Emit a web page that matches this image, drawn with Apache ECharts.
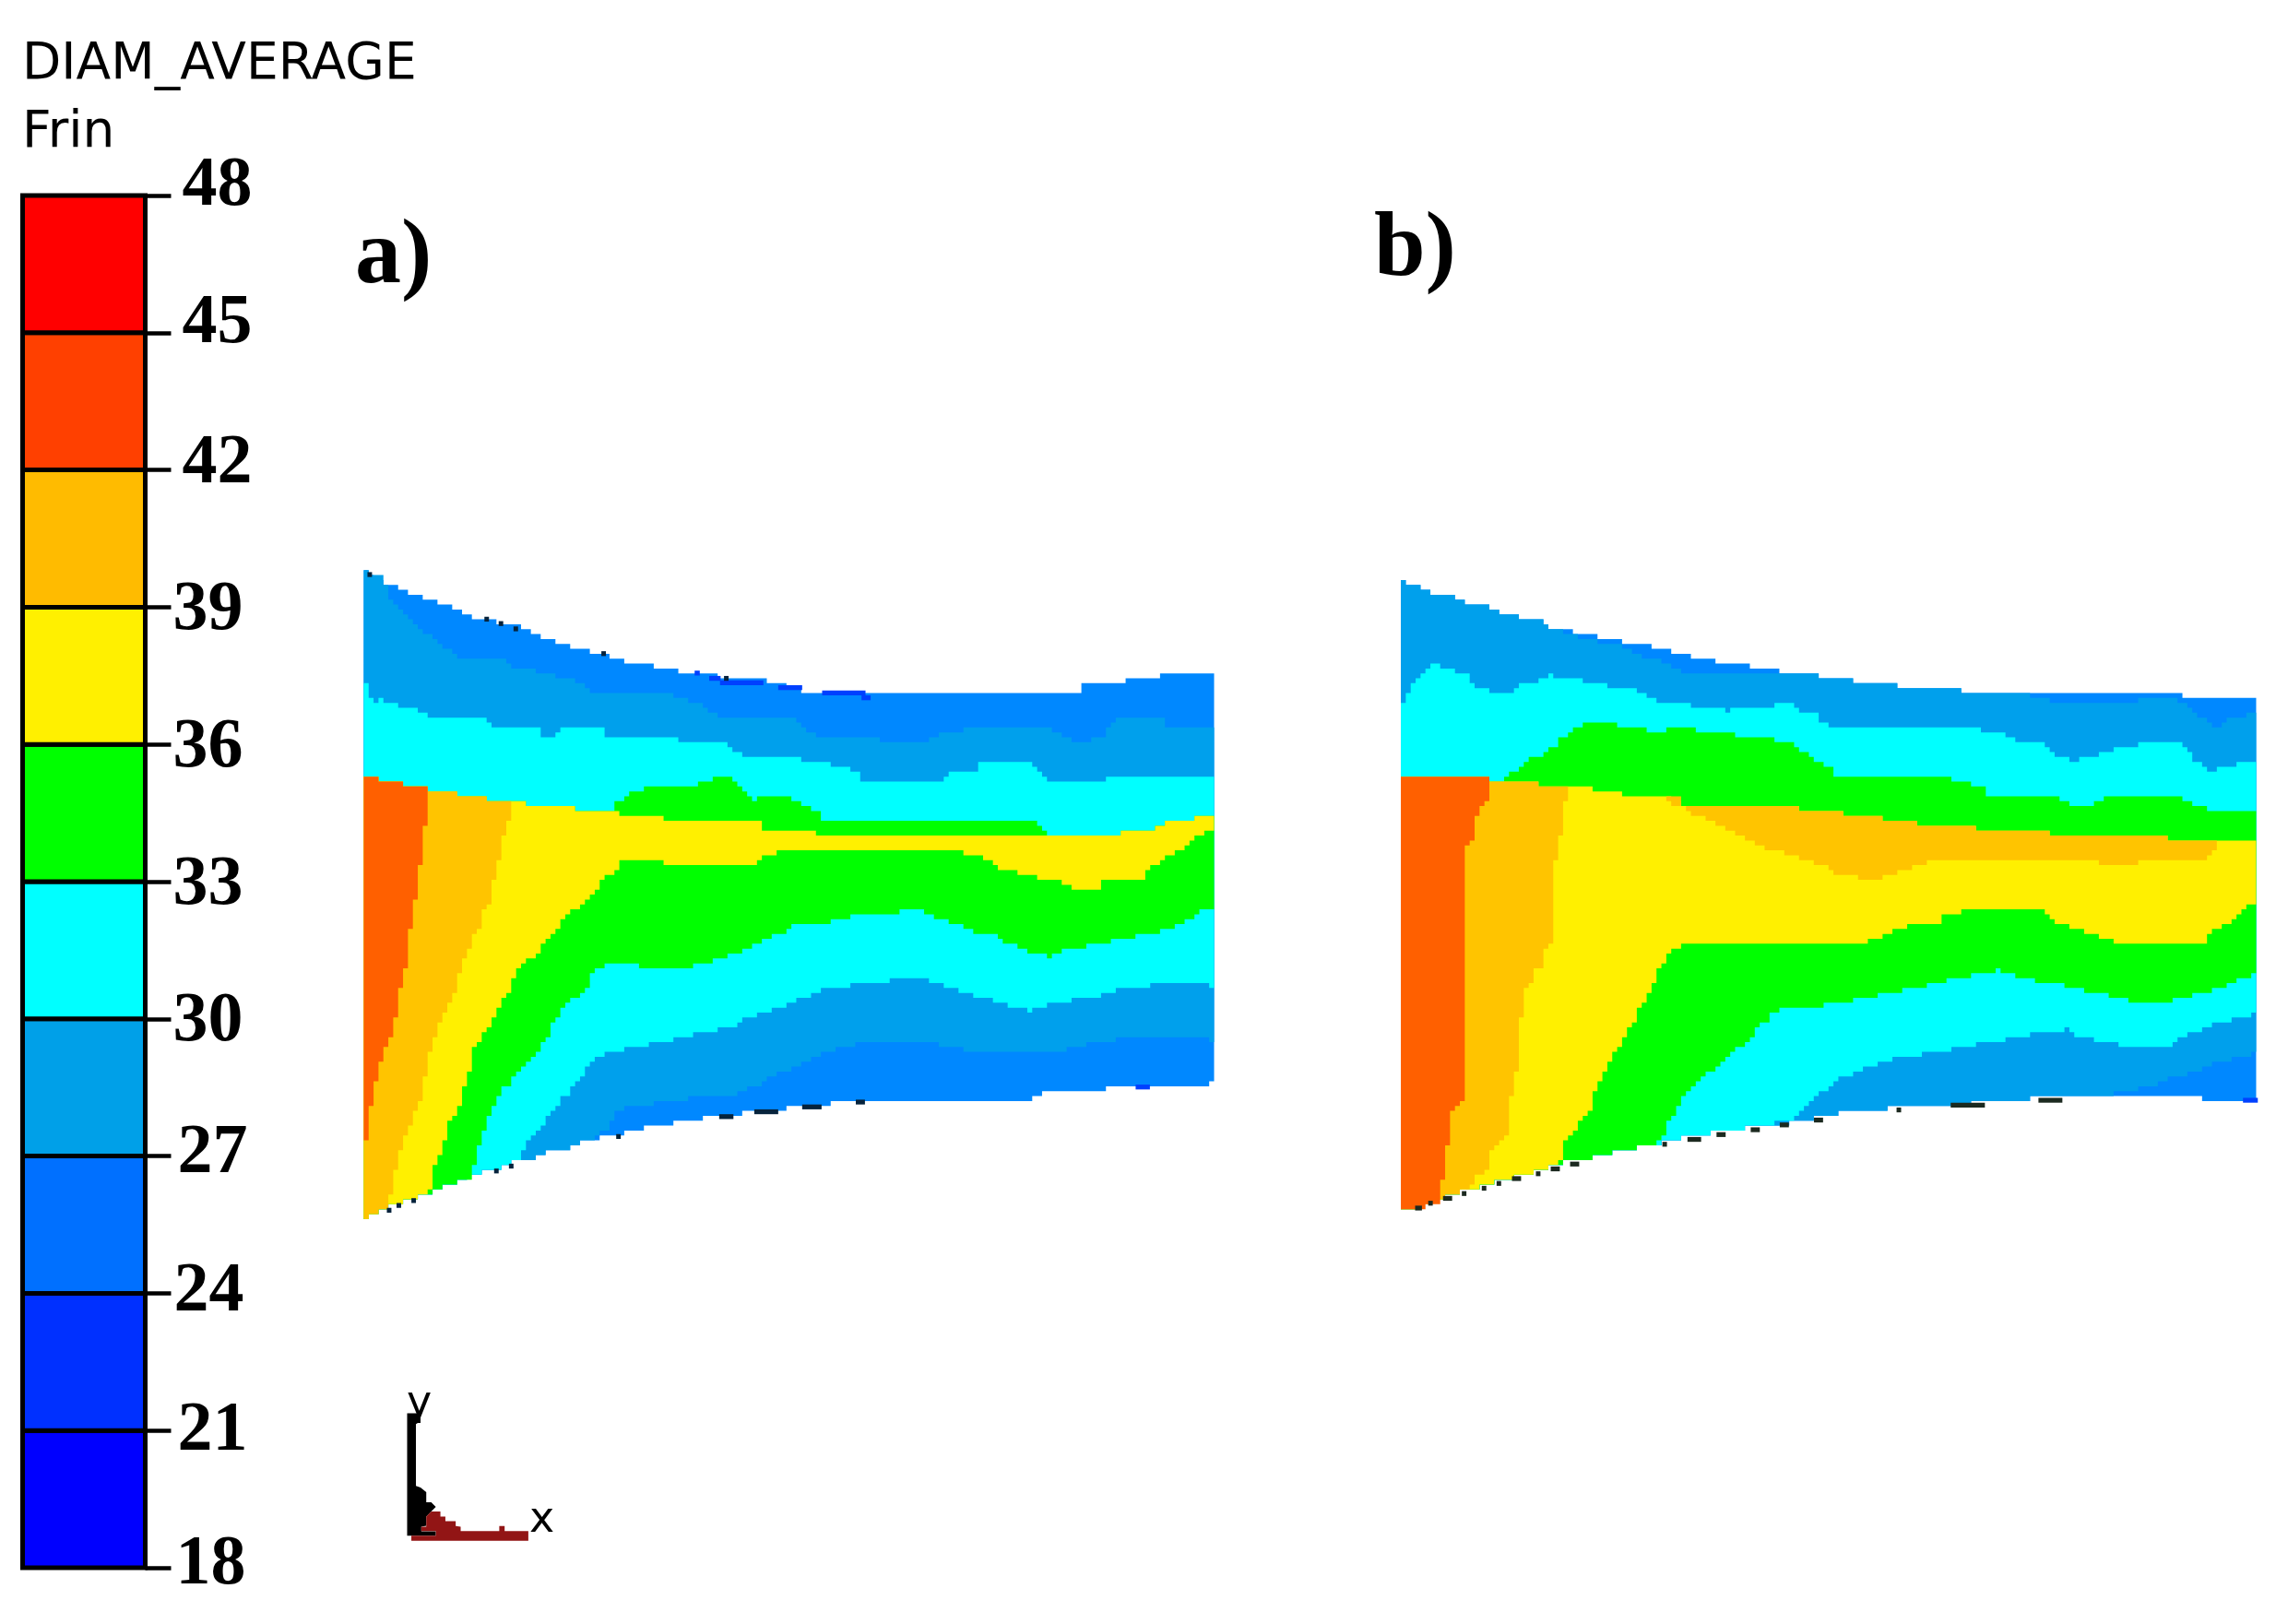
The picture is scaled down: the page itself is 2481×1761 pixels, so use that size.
<!DOCTYPE html>
<html><head><meta charset="utf-8">
<style>html,body{margin:0;padding:0;background:#fff}#c{width:2481px;height:1761px}</style>
<script src="https://cdn.jsdelivr.net/npm/echarts@6/dist/echarts.min.js"></script></head>
<body><div id="c"></div>
<script>
const legendLevels=[18,21,24,27,30,33,36,39,42,45,48];
const legendColors=['#0000ff','#0030ff','#0070ff','#00a0e8','#00ffff','#00ff00','#fff000','#ffbb00','#ff4000','#ff0000'];
const labelShift={48:10,45:9,42:6,39:-4,36:-4,33:-4,30:-4,27:2,24:1,21:-1,18:3};
const labelIndent={48:10,45:10,42:10,39:0,36:0,33:0,30:0,27:5,24:1,21:5,18:3};
const bandColors={l24:'#0088ff',l27:'#00a0ec',l30:'#00ffff',l33:'#00ff00',l36:'#fff000',l39:'#ffc400',l42:'#ff6000'};

/* Panel a: boundaries of the contour levels */
const aOutlineTop=[[37,42],[90,75],[135,97],[185,120],[225,142],[305,165],[365,198],[430,220],[500,243],[585,265],[640,275],[740,287],[810,310],[920,320],[1185,320],[1190,310],[1295,310],[1297,298],[1375,298],[1375,287],[1435,287],[1435,276],[1528,276]];
const aOutlineBottom=[[1528,1190],[1520,1200],[1420,1202],[1322,1213],[1212,1224],[1210,1235],[920,1235],[840,1247],[765,1258],[690,1270],[620,1280],[570,1292],[525,1303],[490,1315],[445,1325],[420,1337],[390,1347],[360,1358],[330,1370],[300,1380],[270,1392],[240,1403],[200,1425],[150,1450],[100,1472],[65,1492],[45,1505],[37,1515]];
const aTop27=[[37,42],[70,55],[80,75],[82,95],[90,120],[115,150],[150,185],[175,210],[200,232],[265,232],[295,252],[330,265],[372,275],[400,287],[415,298],[440,310],[535,310],[578,320],[605,332],[630,343],[650,365],[680,376],[790,376],[810,398],[835,410],[920,410],[925,420],[1015,430],[1040,410],[1085,400],[1135,388],[1235,388],[1255,405],[1290,430],[1330,410],[1358,376],[1440,376],[1445,388],[1528,388]];
const aLow27=[[1528,1100],[1495,1090],[1400,1090],[1358,1100],[1270,1122],[1135,1133],[1050,1110],[1020,1100],[930,1100],[860,1125],[810,1155],[765,1180],[735,1200],[690,1225],[595,1235],[535,1247],[485,1258],[470,1300],[445,1325]];
const aTop30=[[37,276],[45,300],[55,343],[65,320],[72,332],[97,343],[125,352],[140,365],[165,376],[243,376],[260,398],[345,398],[348,410],[372,410],[380,388],[398,388],[400,398],[458,398],[458,410],[545,410],[595,420],[595,432],[672,432],[705,455],[790,455],[795,465],[852,476],[893,488],[912,510],[1048,510],[1075,488],[1115,488],[1118,476],[1195,476],[1200,465],[1220,488],[1238,510],[1296,510],[1305,520],[1320,520],[1348,500],[1435,500],[1440,510],[1445,500],[1528,500]];
const aLow30=[[1528,978],[1445,968],[1408,980],[1358,990],[1322,1002],[1280,1012],[1238,1023],[1212,1035],[1178,1023],[1150,1012],[1118,1000],[1090,990],[1065,978],[1040,968],[1005,957],[963,968],[895,978],[843,990],[825,1002],[800,1012],[782,1023],[758,1035],[732,1045],[705,1057],[690,1068],[655,1080],[620,1090],[578,1102],[535,1112],[490,1125],[458,1135],[445,1147],[430,1170],[420,1190],[400,1225],[380,1247],[355,1290],[335,1330],[312,1358],[312,1375]];
const aTop33=[[37,500],[65,500],[65,510],[107,510],[107,522],[150,522],[150,533],[200,533],[200,545],[252,545],[252,555],[328,555],[328,567],[405,567],[408,577],[472,577],[480,565],[500,545],[525,533],[552,522],[620,522],[648,510],[655,500],[680,500],[690,520],[710,545],[722,555],[765,545],[790,555],[810,575],[835,580],[843,600],[1210,600],[1220,620],[1235,640],[1245,633],[1365,633],[1365,622],[1418,622],[1452,600],[1495,600],[1495,588],[1528,588]];
const aLow33=[[1528,800],[1500,820],[1480,835],[1460,848],[1418,860],[1382,868],[1340,880],[1305,890],[1262,900],[1248,912],[1212,900],[1185,888],[1160,877],[1142,855],[1117,855],[1090,843],[1065,832],[1048,822],[1022,810],[990,800],[980,812],[938,812],[893,823],[860,833],[825,835],[790,845],[770,860],[740,880],[705,900],[680,912],[655,923],[620,935],[595,945],[595,935],[525,935],[525,923],[475,923],[458,935],[440,955],[435,980],[410,1010],[380,1045],[370,1070],[360,1110],[335,1150],[300,1190],[275,1240],[260,1270],[250,1310],[240,1345],[232,1390],[225,1412]];
const aTop36=[[37,500],[65,500],[65,510],[107,510],[107,522],[150,522],[150,533],[200,533],[200,545],[252,545],[252,555],[328,555],[328,567],[405,567],[408,577],[470,577],[490,588],[568,590],[568,600],[655,600],[655,610],[740,610],[740,622],[835,622],[835,633],[903,633],[903,643],[1235,643],[1245,633],[1365,633],[1365,622],[1418,622],[1452,600],[1495,600],[1495,588],[1528,588]];
const aLow36=[[1528,622],[1505,640],[1490,655],[1475,668],[1460,678],[1445,690],[1418,712],[1408,733],[1375,735],[1332,745],[1330,755],[1288,755],[1262,743],[1230,733],[1195,722],[1160,712],[1132,690],[1100,678],[1065,668],[808,668],[765,678],[740,690],[722,710],[714,700],[570,700],[568,688],[492,688],[483,722],[458,735],[448,770],[425,790],[400,820],[380,850],[360,885],[325,930],[303,960],[285,1020],[270,1050],[243,1100],[232,1130],[225,1170],[215,1220],[205,1260],[190,1295],[180,1340],[165,1385],[155,1450]];
const aTop39=[[37,500],[65,500],[65,510],[107,510],[107,522],[150,522],[150,533],[200,533],[200,545],[252,545],[252,555],[300,555]];
const aLow39=[[300,565],[295,610],[285,650],[278,690],[268,740],[260,790],[250,820],[240,855],[225,890],[215,930],[207,960],[198,1000],[183,1040],[165,1090],[155,1135],[148,1180],[140,1235],[122,1290],[105,1345],[97,1380],[88,1450],[80,1478]];
const aLevel42=[[37,500],[65,500],[65,510],[107,510],[107,522],[150,522],[150,620],[142,625],[140,700],[132,770],[122,845],[115,925],[107,965],[98,1045],[90,1080],[80,1115],[72,1145],[63,1180],[55,1235],[47,1325],[37,1325]];
const aDarkSpecks=[[50,47,8],[255,148,8],[280,158,8],[306,170,8],[460,226,8],[675,282,8],[910,1241,16],[825,1252,34],[745,1263,42],[675,1274,25],[486,1319,8],[298,1386,8],[272,1397,8],[127,1464,8],[101,1475,8],[84,1486,8]];
const aBlueSpecks=[[624,270,9],[655,282,20],[702,292,76],[787,303,42],[881,315,76],[920,326,16],[1405,1207,25]];

/* Panel b: boundaries of the contour levels */
const bOutlineTop=[[44,60],[70,75],[95,86],[130,97],[163,109],[190,120],[215,131],[250,142],[285,153],[310,165],[345,176],[387,187],[430,198],[480,209],[515,220],[558,232],[600,243],[652,254],[703,265],[772,276],[832,287],[908,298],[1012,309],[1148,320],[1414,320],[1415,332],[1552,332]];
const bOutlineBottom=[[1552,1247],[1450,1247],[1450,1236],[1165,1236],[1072,1247],[920,1258],[825,1270],[740,1292],[660,1303],[600,1315],[550,1325],[510,1337],[472,1347],[430,1358],[387,1370],[340,1380],[310,1392],[285,1403],[250,1415],[220,1425],[190,1437],[160,1448],[130,1460],[100,1475],[70,1492],[44,1492]];
const bTop27=[[44,60],[70,75],[95,86],[130,97],[163,109],[190,120],[215,131],[250,142],[285,153],[310,165],[345,187],[387,198],[430,209],[472,232],[500,243],[530,265],[558,276],[772,276],[790,287],[832,287],[865,298],[908,298],[1012,309],[1148,320],[1183,332],[1210,343],[1320,343],[1355,322],[1385,322],[1414,335],[1440,365],[1455,376],[1470,398],[1500,376],[1528,365],[1552,365]];
const bLow27=[[1552,1135],[1518,1145],[1483,1158],[1432,1180],[1405,1192],[1355,1213],[1295,1225],[1295,1236]];
const bTop30=[[44,353],[52,322],[62,310],[70,287],[78,276],[88,265],[97,254],[112,254],[137,265],[155,276],[172,298],[198,310],[207,320],[232,320],[233,310],[258,298],[285,287],[310,276],[327,287],[370,287],[370,298],[412,298],[412,309],[463,309],[465,320],[490,322],[507,343],[558,343],[558,353],[618,353],[622,365],[628,353],[703,353],[705,343],[730,343],[748,365],[772,365],[790,387],[832,398],[1063,398],[1065,410],[1098,410],[1140,432],[1175,432],[1190,455],[1210,465],[1228,476],[1238,465],[1270,455],[1295,443],[1338,432],[1414,432],[1432,465],[1458,488],[1470,498],[1483,488],[1510,476],[1552,476]];
const bLow30=[[1552,1045],[1510,1057],[1483,1068],[1458,1080],[1432,1090],[1415,1102],[1390,1124],[1338,1124],[1305,1112],[1262,1102],[1225,1090],[1220,1080],[1215,1090],[1158,1090],[1115,1102],[1072,1112],[1020,1124],[970,1135],[918,1147],[892,1158],[865,1170],[850,1180],[823,1192],[805,1205],[782,1236],[765,1258],[740,1285]];
const bTop33=[[44,500],[112,500],[112,510],[198,510],[198,522],[232,522],[232,500],[258,478],[268,465],[293,455],[310,443],[327,420],[345,398],[370,388],[428,388],[430,398],[480,398],[480,410],[515,398],[566,398],[566,410],[635,410],[635,420],[703,420],[705,432],[730,432],[748,445],[765,465],[782,476],[800,488],[808,500],[960,500],[960,510],[1005,510],[1038,522],[1072,533],[1072,545],[1165,545],[1200,555],[1218,568],[1220,578],[1252,578],[1280,555],[1295,545],[1405,545],[1432,568],[1458,568],[1466,588],[1552,588]];
const bLow33=[[1552,957],[1518,968],[1475,990],[1440,1000],[1415,1012],[1362,1023],[1322,1012],[1288,1000],[1245,990],[1210,978],[1158,968],[1125,957],[1100,946],[1055,957],[1012,968],[977,978],[935,990],[892,1002],[850,1012],[808,1023],[720,1035],[703,1045],[685,1068],[665,1100],[640,1125],[618,1150],[590,1180],[565,1205],[540,1240],[530,1275],[515,1295],[515,1325],[498,1340]];
const bTop36=[[44,500],[112,500],[112,510],[198,510],[198,522],[292,522],[292,533],[386,533],[386,544],[438,544],[438,555],[515,555],[541,567],[642,567],[642,578],[746,578],[746,588],[823,588],[823,600],[892,600],[892,610],[952,610],[952,622],[1055,622],[1055,633],[1183,633],[1183,644],[1397,644],[1397,655],[1552,655]];
const bLow36=[[1552,788],[1543,800],[1518,822],[1500,845],[1483,857],[1466,870],[1458,890],[1330,890],[1295,878],[1270,868],[1245,857],[1218,845],[1190,825],[1175,812],[1038,812],[1005,823],[985,845],[945,846],[918,857],[900,868],[865,880],[865,890],[550,890],[525,900],[515,915],[498,957],[489,990],[480,1012],[465,1045],[455,1068],[445,1090],[430,1125],[420,1147],[405,1190],[390,1220],[378,1270],[360,1300],[345,1325],[335,1347],[330,1382]];
const bTop39=[[44,500],[112,500],[112,510],[198,510],[198,522],[292,522],[292,533],[344,533]];
const bLow39=[[344,555],[335,560],[335,600],[327,650],[318,710],[318,810],[310,900],[301,900],[293,940],[284,950],[275,980],[260,1000],[258,1068],[250,1180],[241,1240],[241,1315],[224,1330],[207,1360],[198,1400],[183,1415],[172,1442]];
const bIsland39=[[515,555],[541,555],[541,567],[642,567],[642,578],[746,578],[746,588],[823,588],[823,600],[892,600],[892,610],[952,610],[952,622],[1055,622],[1055,633],[1183,633],[1183,644],[1397,644],[1397,655],[1475,655],[1475,678],[1458,690],[1397,690],[1397,700],[1338,700],[1338,710],[1270,710],[1270,700],[1245,700],[1245,690],[1012,690],[1012,700],[978,700],[952,710],[925,722],[892,733],[892,744],[850,744],[850,733],[815,733],[800,712],[772,700],[746,688],[720,678],[695,668],[668,655],[652,645],[635,633],[618,622],[600,610],[583,600],[566,590],[550,578],[532,568],[515,560]];
const bLevel42=[[44,500],[112,500],[112,510],[198,510],[198,565],[190,570],[180,610],[172,655],[163,660],[163,1200],[155,1245],[138,1270],[130,1335],[121,1425],[112,1475],[100,1480],[70,1492],[44,1492]];
const bDarkSpecks=[[78,1486,12],[99,1475,8],[129,1464,16],[158,1453,8],[193,1441,8],[219,1430,8],[250,1419,16],[288,1408,8],[318,1397,16],[352,1386,16],[510,1341,8],[562,1330,24],[609,1319,16],[669,1308,16],[720,1297,16],[780,1286,16],[921,1263,8],[1042,1252,60],[1187,1241,42]];
const bBlueSpecks=[[1538,1241,26]];

/* Orientation triad */
const triadBlack=[[1065,398],[1100,398],[1100,430],[1088,430],[1088,635],[1100,640],[1115,655],[1115,688],[1128,688],[1140,703],[1128,718],[1115,735],[1115,765],[1102,768],[1102,783],[1140,783],[1140,797],[1065,797]];
const triadRed=[[1076,797],[1140,797],[1140,782],[1102,782],[1102,768],[1115,768],[1115,735],[1128,718],[1152,718],[1152,735],[1165,735],[1165,750],[1192,750],[1192,766],[1205,768],[1205,782],[1306,782],[1306,766],[1320,766],[1320,782],[1382,782],[1382,814],[1076,814]];

function below(outline,x){return outline.filter(p=>p[0]<x);}
function band(top,low,outline){return top.concat(low,below(outline,low[low.length-1][0]));}

const CELL=5.33;
function stair(pts){
  const s=v=>Math.round(v/CELL)*CELL, out=[];
  const n=pts.length;
  for(let i=0;i<n;i++){
    const p=pts[i],q=pts[(i+1)%n];
    const steps=Math.max(1,Math.ceil(Math.max(Math.abs(q[0]-p[0]),Math.abs(q[1]-p[1]))/CELL));
    for(let k=0;k<steps;k++){
      const x=s(p[0]+(q[0]-p[0])*k/steps),y=s(p[1]+(q[1]-p[1])*k/steps);
      if(out.length){const l=out[out.length-1];out.push([x,l[1]]);}
      out.push([x,y]);
    }
  }
  return out;
}
function poly(gridIdx,pts,color,pixelated){
  return {type:'custom',xAxisIndex:gridIdx,yAxisIndex:gridIdx,coordinateSystem:'cartesian2d',silent:true,clip:false,
    encode:{x:0,y:1},data:pts,
    renderItem:(params,api)=>{
      if(params.dataIndex!==0) return null;
      let p=pts.map(d=>api.coord(d));
      if(pixelated) p=stair(p);
      return {type:'polygon',shape:{points:p},style:{fill:color}};
    }};
}
function specks(gridIdx,list,color){
  return {type:'custom',xAxisIndex:gridIdx,yAxisIndex:gridIdx,coordinateSystem:'cartesian2d',silent:true,clip:false,
    encode:{x:0,y:1},data:list,
    renderItem:(params,api)=>{
      const a=api.coord([api.value(0)-api.value(2)/2,api.value(1)-5.5]);
      const b=api.coord([api.value(0)+api.value(2)/2,api.value(1)+5.5]);
      return {type:'rect',shape:{x:a[0],y:a[1],width:b[0]-a[0],height:b[1]-a[1]},style:{fill:color}};
    }};
}
const hiddenX=(g,max)=>({type:'value',gridIndex:g,min:0,max:max,show:false});
const hiddenY=(g,max)=>({type:'value',gridIndex:g,min:0,max:max,inverse:true,show:false});

const series=[
  poly(0,aOutlineTop.concat(aOutlineBottom),bandColors.l24,true),
  poly(0,band(aTop27,aLow27,aOutlineBottom),bandColors.l27,true),
  poly(0,band(aTop30,aLow30,aOutlineBottom),bandColors.l30,true),
  poly(0,band(aTop33,aLow33,aOutlineBottom),bandColors.l33,true),
  poly(0,band(aTop36,aLow36,aOutlineBottom),bandColors.l36,true),
  poly(0,band(aTop39,aLow39,aOutlineBottom),bandColors.l39,true),
  poly(0,aLevel42,bandColors.l42,true),
  specks(0,aBlueSpecks,'#0040ff'),
  specks(0,aDarkSpecks,'#06233c'),
  poly(1,bOutlineTop.concat(bOutlineBottom),bandColors.l24,true),
  poly(1,band(bTop27,bLow27,bOutlineBottom),bandColors.l27,true),
  poly(1,band(bTop30,bLow30,bOutlineBottom),bandColors.l30,true),
  poly(1,band(bTop33,bLow33,bOutlineBottom),bandColors.l33,true),
  poly(1,band(bTop36,bLow36,bOutlineBottom),bandColors.l36,true),
  poly(1,band(bTop39,bLow39,bOutlineBottom),bandColors.l39,true),
  poly(1,bIsland39,bandColors.l39,true),
  poly(1,bLevel42,bandColors.l42,true),
  specks(1,bBlueSpecks,'#0040ff'),
  specks(1,bDarkSpecks,'#1c2a20'),
  poly(2,triadBlack,'#000',false),
  poly(2,triadRed,'#921515',false),
  {type:'custom',xAxisIndex:3,yAxisIndex:3,coordinateSystem:'cartesian2d',silent:true,clip:false,z:5,
   encode:{y:[1,2]},
   data:legendColors.map((c,i)=>[0,legendLevels[i],legendLevels[i+1]]),
   renderItem:(params,api)=>{
     const a=api.coord([0,api.value(2)]),b=api.coord([0,api.value(1)]);
     const size=api.size([1,0]);
     return {type:'rect',shape:{x:a[0]-size[0]/2,y:a[1],width:size[0],height:b[1]-a[1]},
       style:{fill:legendColors[params.dataIndex],stroke:'#000',lineWidth:5}};
   }}
];
const rich={};
Object.keys(labelShift).forEach(k=>{
  const s=labelShift[k];
  rich['v'+k]={fontFamily:'Liberation Serif',fontWeight:'bold',fontSize:76,color:'#000',lineHeight:70,
    padding:[Math.max(0,-2*s),0,Math.max(0,2*s),labelIndent[k]]};
});
const option={
  backgroundColor:'#fff',animation:false,
  title:[
    {text:'DIAM_AVERAGE',left:24,top:43,padding:0,textStyle:{fontFamily:'DejaVu Sans',fontWeight:'normal',fontSize:55,color:'#000'}},
    {text:'Frin',left:24,top:117,padding:0,textStyle:{fontFamily:'DejaVu Sans',fontWeight:'normal',fontSize:55,color:'#000'}},
    {text:'a)',left:385,top:230,padding:0,textStyle:{fontFamily:'Liberation Serif',fontWeight:'bold',fontSize:100,color:'#000'}},
    {text:'b)',left:1490,top:222,padding:0,textStyle:{fontFamily:'Liberation Serif',fontWeight:'bold',fontSize:100,color:'#000'}},
    {text:'y',left:441,top:1500,padding:0,textStyle:{fontFamily:'DejaVu Sans',fontWeight:'normal',fontSize:46,color:'#000'}},
    {text:'x',left:574,top:1626,padding:0,textStyle:{fontFamily:'DejaVu Sans',fontWeight:'normal',fontSize:46,color:'#000'}}
  ],
  grid:[
    {left:370,top:600.5,width:970,height:755},
    {left:1490,top:601,width:970,height:750},
    {left:0,top:1400,width:650,height:361},
    {left:24.5,top:212,width:133,height:1488}
  ],
  xAxis:[hiddenX(0,1568),hiddenX(1,1570),hiddenX(2,1568),
    {type:'category',gridIndex:3,data:[''],boundaryGap:true,show:false}],
  yAxis:[hiddenY(0,1576),hiddenY(1,1572),hiddenY(2,1085),
    {type:'value',gridIndex:3,position:'right',min:18,max:48,interval:3,
     axisLine:{show:false},splitLine:{show:false},
     axisTick:{show:true,length:28,lineStyle:{color:'#000',width:4.5}},
     axisLabel:{show:true,margin:30,align:'left',verticalAlign:'middle',
       formatter:v=>'{v'+v+'|'+v+'}',rich:rich}}],
  series:series
};
const chart=echarts.init(document.getElementById('c'),null,{renderer:'canvas'});
chart.setOption(option);
</script></body></html>
